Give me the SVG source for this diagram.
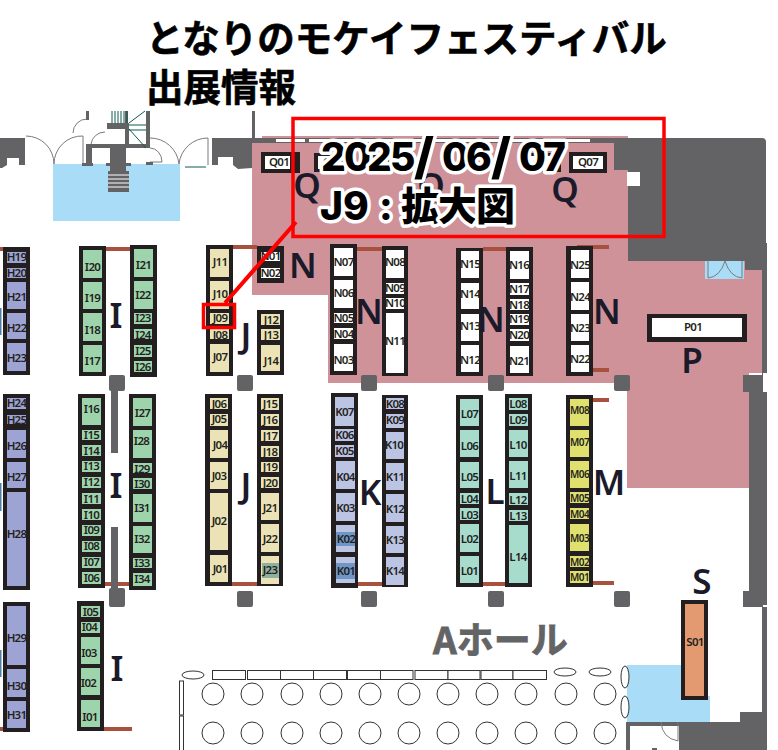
<svg xmlns="http://www.w3.org/2000/svg" width="778" height="750" viewBox="0 0 778 750">
<style>
.w{fill:#636366}.k{fill:#231f20}.r{fill:#a8513f}.bl{fill:#a9dcf6}.pk{fill:#cf9298}
.h{fill:#9da3d2}.i{fill:#9ed4ac}.j{fill:#ebe3b5}.kk{fill:#bcc4e3}.l{fill:#a7dccd}.m{fill:#dfe06e}.s{fill:#e39a70}.n{fill:#fff}
.ar{fill:none;stroke:#7b7b7e;stroke-width:1}
.gr{fill:none;stroke:#0d5a50;stroke-width:1}
.ob{fill:#fff;stroke:#333;stroke-width:1}
text{font-family:"Noto Sans","Noto Sans CJK JP",sans-serif}
g.b text{font-size:11.5px;font-weight:600;fill:#231f20;text-anchor:middle;letter-spacing:-.7px}
g.b text.sm{font-size:10px;letter-spacing:-.5px}
.lt{font-size:35px;font-weight:600;fill:#1a1a2a;text-anchor:middle}
.ttl{font-family:"Noto Sans CJK JP",sans-serif;font-size:37.500px;font-weight:700;fill:#000;stroke:#000;stroke-width:.6px}
.ov{font-family:Inter,"Noto Sans CJK JP",sans-serif;font-size:39px;font-weight:800;fill:#000;stroke:#fff;stroke-width:7px;stroke-linejoin:round;paint-order:stroke}
.sl{font-size:50px}
</style>
<rect width="778" height="750" fill="#fff"/>
<g id="floor">
<path class="pk" d="M262 136H628V261H745V270H762V373H749V488H627V383H328V295H252V143H262Z"/>
<path class="w" d="M0 138H25V165H19V158H7V165L2 168H0ZM212 138H590V143H252V168L238 169L233 165V157H218V165H212Z"/>
<rect x="252" y="111" width="3" height="27" class="w"/>
<path fill="#fff" d="M276 139H305V142H276ZM309 139H590V142H309Z"/>
<path class="w" d="M590 138H762Q766 138 766 142V243H767V373H763V392H767V605H763V607H767V717H767V750H679V722H740V712H762V607H743V591H749V392H743V375H762V270H745V261H628V170H614V143H590Z"/>
<rect x="627" y="172" width="13" height="14" fill="#fff"/>
<rect x="705" y="261" width="39" height="18" class="bl"/>
<path class="ar" d="M708 261V278Q720 277 725 261Q730 277 742 278V261" stroke="#4a6f85"/>
<rect x="53" y="164" width="127" height="57" class="bl"/>
<path class="ar" d="M26 136A28 28 0 0 1 54 164A28 28 0 0 1 83 136V164M150 138A29 29 0 0 1 179 164A29 29 0 0 1 208 138V165M73 133A14 14 0 0 1 87 119M91 147V144A14 14 0 0 1 105 132M150 148A12 14 0 0 1 162 162H150"/>
<path class="w" d="M86 111H89V120H86ZM86 144H105V148H92V163H93V166H82V163H86ZM107 123H125V111H128V123H129V144H146V111H150V148H126V163H131V166H126V171H110V166H106V163H110V148H105V144H125V129H107ZM146 162H150V150H150V165H153V162ZM146 165H153V162H146Z"/>
<rect x="108" y="171" width="21" height="21" class="w"/>
<path d="M108 175H129M108 179H129M108 183H129M108 187H129" stroke="#fff" fill="none"/>
<path class="gr" d="M112 111V123M115 111V123M118 111V123M121 111V123M124 111V123M127 111V123M129 125H146M129 130H146M129 123L145 111M129 129L146 148M185 167H206"/>
<g class="w">
<rect x="109" y="375" width="16" height="16" rx="2"/><rect x="237" y="375" width="16" height="16" rx="2"/><rect x="361" y="375" width="16" height="16" rx="2"/><rect x="488" y="375" width="16" height="16" rx="2"/><rect x="614" y="375" width="16" height="16" rx="2"/>
<rect x="109" y="588" width="16" height="19" rx="2"/><rect x="237" y="591" width="16" height="16" rx="2"/><rect x="361" y="591" width="16" height="16" rx="2"/><rect x="488" y="591" width="16" height="16" rx="2"/><rect x="614" y="591" width="16" height="16" rx="2"/>
<rect x="111" y="385" width="7" height="68"/><rect x="111" y="527" width="7" height="63"/>
</g>
<g class="r">
<rect x="0" y="247" width="3" height="4"/><rect x="106" y="247" width="24" height="4"/><rect x="233" y="245" width="24" height="4"/><rect x="357" y="247" width="25" height="4"/><rect x="483" y="247" width="23" height="4"/><rect x="577" y="245" width="32" height="4"/><rect x="593" y="368" width="16" height="4"/>
<rect x="105" y="582" width="6" height="4"/><rect x="118" y="582" width="12" height="4"/><rect x="232" y="582" width="25" height="4"/><rect x="358" y="582" width="24" height="4"/><rect x="483" y="582" width="22" height="4"/><rect x="593" y="398" width="16" height="4"/><rect x="593" y="581" width="21" height="4"/><rect x="0" y="727" width="3" height="4"/><rect x="104" y="727" width="28" height="4"/>
</g>
<rect x="0" y="308" width="1.500" height="27" fill="#4f7fa6"/><rect x="0" y="483" width="1.500" height="28" fill="#4f7fa6"/><rect x="0" y="650" width="1.500" height="27" fill="#4f7fa6"/>
<path class="bl" d="M627 665H682V696H710V722H627Z"/>
<path class="w" d="M626 722H679V726H630V750H626Z"/>
<path class="ar" d="M661 722Q662 738 678 741V722"/>
<rect x="652" y="748" width="5" height="2" class="w"/>
<g class="ob">
<ellipse cx="193" cy="675" rx="11" ry="4"/><ellipse cx="565" cy="672" rx="11" ry="4"/><ellipse cx="600" cy="672" rx="11" ry="4"/><ellipse cx="625" cy="677" rx="4" ry="11"/><ellipse cx="625" cy="707" rx="4" ry="11"/>
<rect x="212.500" y="670.500" width="33" height="9"/><rect x="247.500" y="670.500" width="33" height="9"/><rect x="280.500" y="670.500" width="33" height="9"/><rect x="313.500" y="670.500" width="33" height="9"/><rect x="347.500" y="670.500" width="33" height="9"/><rect x="380.500" y="670.500" width="32.500" height="9"/><rect x="415" y="670.500" width="33" height="9"/><rect x="448" y="670.500" width="32" height="9"/><rect x="481" y="670.500" width="32" height="9"/><rect x="513" y="670.500" width="33.500" height="9"/>
<rect x="179.500" y="681" width="4" height="34"/><rect x="179.500" y="716" width="4" height="36"/>
<circle cx="213" cy="694" r="11"/><circle cx="252" cy="694" r="11"/><circle cx="292" cy="694" r="11"/><circle cx="331" cy="694" r="11"/><circle cx="370" cy="694" r="11"/><circle cx="409" cy="694" r="11"/><circle cx="448" cy="694" r="11"/><circle cx="487" cy="694" r="11"/><circle cx="526" cy="694" r="11"/><circle cx="566" cy="694" r="11"/><circle cx="605" cy="694" r="11"/>
<circle cx="213" cy="733" r="11"/><circle cx="252" cy="733" r="11"/><circle cx="292" cy="733" r="11"/><circle cx="331" cy="733" r="11"/><circle cx="370" cy="733" r="11"/><circle cx="409" cy="733" r="11"/><circle cx="448" cy="733" r="11"/><circle cx="487" cy="733" r="11"/><circle cx="526" cy="733" r="11"/><circle cx="566" cy="733" r="11"/><circle cx="605" cy="733" r="11"/>
</g>
<text x="433" y="654" style="font-family:'Noto Sans CJK JP',sans-serif;font-size:37px;font-weight:700;fill:#636466;stroke:#636466;stroke-width:.8px">Aホール</text>
</g>
<g id="columns" class="k">
<rect x="3" y="247" width="27" height="128"/><rect x="79" y="246" width="27" height="130"/><rect x="130" y="245" width="27" height="132"/><rect x="206" y="245" width="27" height="131"/><rect x="257" y="310" width="27" height="65"/><rect x="257" y="246" width="27" height="37"/><rect x="330" y="244" width="27" height="131"/><rect x="382" y="246" width="26" height="130"/><rect x="456" y="248" width="27" height="128"/><rect x="506" y="247" width="27" height="129"/><rect x="566" y="246" width="27" height="130"/>
<rect x="3" y="394" width="27" height="196"/><rect x="78" y="394" width="27" height="194"/><rect x="129" y="394" width="27" height="196"/><rect x="205" y="394" width="27" height="192"/><rect x="257" y="394" width="26" height="192"/><rect x="331" y="393" width="27" height="195"/><rect x="382" y="395" width="26" height="192"/><rect x="456" y="395" width="27" height="192"/><rect x="505" y="394" width="27" height="193"/><rect x="566" y="395" width="27" height="192"/>
<rect x="3" y="602" width="27" height="130"/><rect x="77" y="601" width="27" height="130"/>
<rect x="647" y="314" width="100" height="28"/><rect x="681" y="600" width="27" height="100"/>
<rect x="261" y="152" width="39" height="21"/><rect x="314" y="153" width="38" height="19"/><rect x="372" y="153" width="38" height="19"/><rect x="523" y="153" width="38" height="19"/><rect x="569" y="152" width="38" height="21"/>
</g>
<g class="b" id="H19"><rect class="h" x="7" y="252" width="19" height="11"/><text x="16.500" y="261">H19</text></g>
<g class="b" id="H20"><rect class="h" x="7" y="268" width="19" height="10"/><text x="16.500" y="277">H20</text></g>
<g class="b" id="H21"><rect class="h" x="7" y="282" width="19" height="27"/><text x="16.500" y="301">H21</text></g>
<g class="b" id="H22"><rect class="h" x="7" y="313" width="19" height="26"/><text x="16.500" y="332">H22</text></g>
<g class="b" id="H23"><rect class="h" x="7" y="343" width="19" height="28"/><text x="16.500" y="362">H23</text></g>
<g class="b" id="H24"><rect class="h" x="7" y="398" width="19" height="11"/><text x="16.500" y="407">H24</text></g>
<g class="b" id="H25"><rect class="h" x="7" y="415" width="19" height="9"/><text x="16.500" y="424">H25</text></g>
<g class="b" id="H26"><rect class="h" x="7" y="430" width="19" height="28"/><text x="16.500" y="450">H26</text></g>
<g class="b" id="H27"><rect class="h" x="7" y="462" width="19" height="26"/><text x="16.500" y="481">H27</text></g>
<g class="b" id="H28"><rect class="h" x="7" y="492" width="19" height="94"/><text x="16.500" y="538">H28</text></g>
<g class="b" id="H29"><rect class="h" x="7" y="606" width="19" height="59"/><text x="16.500" y="642">H29</text></g>
<g class="b" id="H30"><rect class="h" x="7" y="669" width="19" height="28"/><text x="16.500" y="690">H30</text></g>
<g class="b" id="H31"><rect class="h" x="7" y="701" width="19" height="27"/><text x="16.500" y="719">H31</text></g>
<g class="b" id="I20"><rect class="i" x="83" y="250" width="19" height="28"/><text x="92.500" y="271">I20</text></g>
<g class="b" id="I19"><rect class="i" x="83" y="282" width="19" height="27"/><text x="92.500" y="302">I19</text></g>
<g class="b" id="I18"><rect class="i" x="83" y="313" width="19" height="28"/><text x="92.500" y="334">I18</text></g>
<g class="b" id="I17"><rect class="i" x="83" y="345" width="19" height="27"/><text x="92.500" y="365">I17</text></g>
<g class="b" id="I21"><rect class="i" x="134" y="249" width="19" height="28"/><text x="143.500" y="269">I21</text></g>
<g class="b" id="I22"><rect class="i" x="134" y="281" width="19" height="28"/><text x="143" y="299">I22</text></g>
<g class="b" id="I23"><rect class="i" x="134" y="313" width="18" height="11"/><text x="143" y="322">I23</text></g>
<g class="b" id="I24"><rect class="i" x="134" y="329" width="18" height="10"/><text x="143" y="339">I24</text></g>
<g class="b" id="I25"><rect class="i" x="134" y="345" width="18" height="12"/><text x="143" y="355">I25</text></g>
<g class="b" id="I26"><rect class="i" x="134" y="361" width="18" height="11"/><text x="143" y="371">I26</text></g>
<g class="b" id="I16"><rect class="i" x="82" y="398" width="19" height="27"/><text x="91.500" y="413">I16</text></g>
<g class="b" id="I15"><rect class="i" x="82" y="430" width="19" height="10"/><text x="91.500" y="439">I15</text></g>
<g class="b" id="I14"><rect class="i" x="82" y="445" width="19" height="11"/><text x="91.500" y="455">I14</text></g>
<g class="b" id="I13"><rect class="i" x="82" y="461" width="19" height="11"/><text x="91.500" y="470">I13</text></g>
<g class="b" id="I12"><rect class="i" x="82" y="477" width="19" height="11"/><text x="91.500" y="486">I12</text></g>
<g class="b" id="I11"><rect class="i" x="82" y="493" width="19" height="11"/><text x="91.500" y="503">I11</text></g>
<g class="b" id="I10"><rect class="i" x="82" y="509" width="19" height="11"/><text x="91.500" y="519">I10</text></g>
<g class="b" id="I09"><rect class="i" x="82" y="525" width="19" height="11"/><text x="91.500" y="534">I09</text></g>
<g class="b" id="I08"><rect class="i" x="82" y="541" width="19" height="11"/><text x="91.500" y="550">I08</text></g>
<g class="b" id="I07"><rect class="i" x="82" y="557" width="19" height="11"/><text x="91.500" y="566">I07</text></g>
<g class="b" id="I06"><rect class="i" x="82" y="572" width="19" height="12"/><text x="91.500" y="582">I06</text></g>
<g class="b" id="I27"><rect class="i" x="133" y="398" width="19" height="28"/><text x="142.500" y="417">I27</text></g>
<g class="b" id="I28"><rect class="i" x="133" y="430" width="19" height="28"/><text x="141.500" y="445">I28</text></g>
<g class="b" id="I29"><rect class="i" x="133" y="463" width="19" height="10"/><text x="142" y="473">I29</text></g>
<g class="b" id="I30"><rect class="i" x="133" y="478" width="19" height="11"/><text x="142" y="488">I30</text></g>
<g class="b" id="I31"><rect class="i" x="133" y="494" width="19" height="28"/><text x="142" y="512">I31</text></g>
<g class="b" id="I32"><rect class="i" x="133" y="526" width="19" height="27"/><text x="142" y="543">I32</text></g>
<g class="b" id="I33"><rect class="i" x="133" y="558" width="19" height="10"/><text x="142" y="567">I33</text></g>
<g class="b" id="I34"><rect class="i" x="133" y="573" width="19" height="13"/><text x="142" y="583">I34</text></g>
<g class="b" id="I05"><rect class="i" x="81" y="606" width="19" height="11"/><text x="90.500" y="616">I05</text></g>
<g class="b" id="I04"><rect class="i" x="81" y="622" width="19" height="11"/><text x="89.500" y="631">I04</text></g>
<g class="b" id="I03"><rect class="i" x="81" y="637" width="19" height="27"/><text x="89" y="657">I03</text></g>
<g class="b" id="I02"><rect class="i" x="81" y="668" width="19" height="27"/><text x="88.500" y="687">I02</text></g>
<g class="b" id="I01"><rect class="i" x="81" y="700" width="19" height="27"/><text x="90" y="721">I01</text></g>
<g class="b" id="J11"><rect class="j" x="210" y="249" width="19" height="28"/><text x="220" y="266">J11</text></g>
<g class="b" id="J10"><rect class="j" x="210" y="281" width="19" height="28"/><text x="220" y="298">J10</text></g>
<g class="b" id="J09"><rect class="j" x="210" y="313" width="19" height="11"/><text x="220" y="322">J09</text></g>
<g class="b" id="J08"><rect class="j" x="210" y="329" width="19" height="10"/><text x="220" y="339">J08</text></g>
<g class="b" id="J07"><rect class="j" x="210" y="344" width="19" height="28"/><text x="220" y="361">J07</text></g>
<g class="b" id="J12"><rect class="j" x="261" y="314" width="19" height="11"/><text x="271" y="324">J12</text></g>
<g class="b" id="J13"><rect class="j" x="261" y="329" width="19" height="11"/><text x="271" y="339">J13</text></g>
<g class="b" id="J14"><rect class="j" x="261" y="345" width="19" height="26"/><text x="271" y="365">J14</text></g>
<g class="b" id="J06"><rect class="j" x="210" y="398" width="18" height="11"/><text x="219" y="408">J06</text></g>
<g class="b" id="J05"><rect class="j" x="210" y="414" width="18" height="12"/><text x="219" y="423">J05</text></g>
<g class="b" id="J04"><rect class="j" x="210" y="430" width="18" height="28"/><text x="220" y="449">J04</text></g>
<g class="b" id="J03"><rect class="j" x="210" y="462" width="18" height="27"/><text x="219" y="480">J03</text></g>
<g class="b" id="J02"><rect class="j" x="210" y="493" width="18" height="57"/><text x="219" y="525">J02</text></g>
<g class="b" id="J01"><rect class="j" x="210" y="555" width="18" height="27"/><text x="220" y="573">J01</text></g>
<g class="b" id="J15"><rect class="j" x="261" y="398" width="18" height="12"/><text x="270" y="408">J15</text></g>
<g class="b" id="J16"><rect class="j" x="261" y="414" width="18" height="12"/><text x="270" y="424">J16</text></g>
<g class="b" id="J17"><rect class="j" x="261" y="430" width="18" height="11"/><text x="270" y="440">J17</text></g>
<g class="b" id="J18"><rect class="j" x="261" y="446" width="18" height="11"/><text x="270" y="456">J18</text></g>
<g class="b" id="J19"><rect class="j" x="261" y="462" width="18" height="10"/><text x="270" y="471">J19</text></g>
<g class="b" id="J20"><rect class="j" x="261" y="477" width="18" height="11"/><text x="270" y="487">J20</text></g>
<g class="b" id="J21"><rect class="j" x="261" y="493" width="18" height="27"/><text x="270" y="512">J21</text></g>
<g class="b" id="J22"><rect class="j" x="261" y="524" width="18" height="28"/><text x="270" y="543">J22</text></g>
<g class="b" id="J23"><rect class="j" x="261" y="556" width="18" height="28"/><rect x="262" y="563" width="17" height="15" fill="#8fb09f"/><text x="270" y="574">J23</text></g>
<g class="b" id="K07"><rect class="kk" x="335" y="397" width="19" height="29"/><text x="344.500" y="416">K07</text></g>
<g class="b" id="K06"><rect class="kk" x="335" y="429" width="19" height="12"/><text x="344.500" y="439">K06</text></g>
<g class="b" id="K05"><rect class="kk" x="335" y="445" width="19" height="12"/><text x="344.500" y="455">K05</text></g>
<g class="b" id="K04"><rect class="kk" x="336" y="461" width="19" height="28"/><text x="345.500" y="481">K04</text></g>
<g class="b" id="K03"><rect class="kk" x="336" y="493" width="19" height="28"/><text x="345.500" y="512">K03</text></g>
<g class="b" id="K02"><rect class="kk" x="336" y="525" width="19" height="27"/><rect x="336" y="532" width="19" height="14" fill="#6f97c6"/><text x="346" y="543">K02</text></g>
<g class="b" id="K01"><rect class="kk" x="336" y="557" width="19" height="26"/><rect x="336" y="563" width="19" height="16" fill="#6f97c6"/><text x="346" y="575">K01</text></g>
<g class="b" id="K08"><rect class="kk" x="386" y="398" width="18" height="11"/><text x="395" y="408">K08</text></g>
<g class="b" id="K09"><rect class="kk" x="386" y="414" width="18" height="14"/><text x="395" y="424">K09</text></g>
<g class="b" id="K10"><rect class="kk" x="386" y="432" width="18" height="27"/><text x="394" y="449">K10</text></g>
<g class="b" id="K11"><rect class="kk" x="386" y="463" width="18" height="27"/><text x="395" y="481">K11</text></g>
<g class="b" id="K12"><rect class="kk" x="386" y="494" width="18" height="28"/><text x="395" y="513">K12</text></g>
<g class="b" id="K13"><rect class="kk" x="386" y="526" width="18" height="27"/><text x="395" y="544">K13</text></g>
<g class="b" id="K14"><rect class="kk" x="386" y="557" width="18" height="28"/><text x="395" y="575">K14</text></g>
<g class="b" id="L07"><rect class="l" x="460" y="399" width="19" height="27"/><text x="469.500" y="418">L07</text></g>
<g class="b" id="L06"><rect class="l" x="460" y="430" width="19" height="27"/><text x="469.500" y="450">L06</text></g>
<g class="b" id="L05"><rect class="l" x="460" y="462" width="19" height="26"/><text x="469.500" y="481">L05</text></g>
<g class="b" id="L04"><rect class="l" x="460" y="493" width="19" height="11"/><text x="469.500" y="503">L04</text></g>
<g class="b" id="L03"><rect class="l" x="460" y="508" width="19" height="12"/><text x="469.500" y="519">L03</text></g>
<g class="b" id="L02"><rect class="l" x="460" y="524" width="19" height="28"/><text x="469.500" y="543">L02</text></g>
<g class="b" id="L01"><rect class="l" x="460" y="556" width="19" height="27"/><text x="469.500" y="575">L01</text></g>
<g class="b" id="L08"><rect class="l" x="509" y="398" width="19" height="12"/><text x="518" y="408">L08</text></g>
<g class="b" id="L09"><rect class="l" x="509" y="414" width="19" height="12"/><text x="518" y="424">L09</text></g>
<g class="b" id="L10"><rect class="l" x="509" y="430" width="19" height="27"/><text x="518" y="449">L10</text></g>
<g class="b" id="L11"><rect class="l" x="509" y="461" width="19" height="27"/><text x="518" y="480">L11</text></g>
<g class="b" id="L12"><rect class="l" x="509" y="493" width="19" height="12"/><text x="518" y="504">L12</text></g>
<g class="b" id="L13"><rect class="l" x="509" y="510" width="19" height="11"/><text x="518" y="520">L13</text></g>
<g class="b" id="L14"><rect class="l" x="509" y="525" width="19" height="58"/><text x="518" y="561">L14</text></g>
<g class="b" id="M08"><rect class="m" x="570" y="399" width="19" height="27"/><text class="sm" x="579.500" y="414">M08</text></g>
<g class="b" id="M07"><rect class="m" x="570" y="430" width="19" height="27"/><text class="sm" x="579.500" y="446">M07</text></g>
<g class="b" id="M06"><rect class="m" x="570" y="461" width="19" height="27"/><text class="sm" x="579.500" y="478">M06</text></g>
<g class="b" id="M05"><rect class="m" x="570" y="492" width="19" height="11"/><text class="sm" x="579.500" y="502">M05</text></g>
<g class="b" id="M04"><rect class="m" x="570" y="508" width="19" height="11"/><text class="sm" x="579.500" y="518">M04</text></g>
<g class="b" id="M03"><rect class="m" x="570" y="524" width="19" height="27"/><text class="sm" x="579.500" y="542">M03</text></g>
<g class="b" id="M02"><rect class="m" x="570" y="556" width="19" height="11"/><text class="sm" x="579.500" y="566">M02</text></g>
<g class="b" id="M01"><rect class="m" x="570" y="571" width="19" height="12"/><text class="sm" x="579.500" y="581">M01</text></g>
<g class="b" id="N01"><rect class="n" x="261" y="252" width="19" height="9"/><text x="270.500" y="260">N01</text></g>
<g class="b" id="N02"><rect class="n" x="261" y="268" width="19" height="10"/><text x="270.500" y="277">N02</text></g>
<g class="b" id="N07"><rect class="n" x="334" y="248" width="19" height="28"/><text x="343.500" y="266">N07</text></g>
<g class="b" id="N06"><rect class="n" x="334" y="280" width="19" height="28"/><text x="343.500" y="297">N06</text></g>
<g class="b" id="N05"><rect class="n" x="334" y="313" width="19" height="10"/><text x="343.500" y="322">N05</text></g>
<g class="b" id="N04"><rect class="n" x="334" y="328" width="19" height="11"/><text x="343.500" y="338">N04</text></g>
<g class="b" id="N03"><rect class="n" x="334" y="344" width="19" height="27"/><text x="343.500" y="364">N03</text></g>
<g class="b" id="N08"><rect class="n" x="386" y="250" width="18" height="28"/><text x="395" y="266">N08</text></g>
<g class="b" id="N09"><rect class="n" x="386" y="283" width="18" height="11"/><text x="395" y="292">N09</text></g>
<g class="b" id="N10"><rect class="n" x="386" y="298" width="18" height="11"/><text x="395" y="307">N10</text></g>
<g class="b" id="N11"><rect class="n" x="386" y="313" width="18" height="60"/><text x="395" y="345">N11</text></g>
<g class="b" id="N15"><rect class="n" x="461" y="251" width="18" height="27"/><text x="470" y="268">N15</text></g>
<g class="b" id="N14"><rect class="n" x="461" y="283" width="18" height="26"/><text x="470" y="298">N14</text></g>
<g class="b" id="N13"><rect class="n" x="461" y="314" width="18" height="27"/><text x="470" y="330">N13</text></g>
<g class="b" id="N12"><rect class="n" x="461" y="345" width="18" height="27"/><text x="470" y="364">N12</text></g>
<g class="b" id="N16"><rect class="n" x="510" y="251" width="19" height="28"/><text x="519" y="269">N16</text></g>
<g class="b" id="N17"><rect class="n" x="510" y="283" width="19" height="12"/><text x="519" y="293">N17</text></g>
<g class="b" id="N18"><rect class="n" x="510" y="299" width="19" height="11"/><text x="519" y="309">N18</text></g>
<g class="b" id="N19"><rect class="n" x="510" y="314" width="19" height="11"/><text x="519" y="323">N19</text></g>
<g class="b" id="N20"><rect class="n" x="510" y="329" width="19" height="12"/><text x="519" y="339">N20</text></g>
<g class="b" id="N21"><rect class="n" x="510" y="346" width="19" height="27"/><text x="519" y="365">N21</text></g>
<g class="b" id="N25"><rect class="n" x="571" y="250" width="18" height="28"/><text x="580" y="269">N25</text></g>
<g class="b" id="N24"><rect class="n" x="571" y="282" width="18" height="28"/><text x="580" y="301">N24</text></g>
<g class="b" id="N23"><rect class="n" x="571" y="314" width="18" height="27"/><text x="580" y="332">N23</text></g>
<g class="b" id="N22"><rect class="n" x="571" y="345" width="18" height="27"/><text x="580" y="363">N22</text></g>
<g class="b" id="P01"><rect class="n" x="652" y="318" width="90" height="19"/><text x="693" y="331">P01</text></g>
<g class="b" id="S01"><rect class="s" x="685" y="604" width="19" height="92"/><text x="695" y="646">S01</text></g>
<g class="b" id="Q01"><rect class="n" x="265" y="156" width="25" height="13"/><text x="279" y="166">Q01</text></g>
<g class="b" id="Q02"><rect class="n" x="318" y="156" width="30" height="13"/><text x="333" y="166">Q02</text></g>
<g class="b" id="Q04"><rect class="n" x="376" y="156" width="30" height="13"/><text x="391" y="166">Q04</text></g>
<g class="b" id="Q06"><rect class="n" x="527" y="156" width="30" height="13"/><text x="543" y="166">Q06</text></g>
<g class="b" id="Q07"><rect class="n" x="573" y="156" width="30" height="13"/><text x="588" y="166">Q07</text></g>
<g id="letters">
<text class="lt" x="116" y="328">I</text><text class="lt" x="116" y="498">I</text><text class="lt" x="117" y="681">I</text>
<text class="lt" x="246" y="348">J</text><text class="lt" x="246" y="498">J</text>
<text class="lt" x="370" y="505">K</text><text class="lt" x="495" y="504">L</text><text class="lt" x="609" y="495">M</text>
<text class="lt" x="303" y="278">N</text><text class="lt" x="369" y="324">N</text><text class="lt" x="491" y="332">N</text><text class="lt" x="607" y="324">N</text>
<text class="lt" x="692" y="373">P</text><text class="lt" x="702" y="594">S</text>
<text class="lt" x="307" y="198">Q</text><text class="lt" x="431" y="198">Q</text><text class="lt" x="565" y="202">Q</text>
</g>
<g id="connectors">
<path d="M296 222L225 303" stroke="#f00" stroke-width="4" fill="none"/>
<rect x="203.500" y="304.500" width="31" height="23" fill="none" stroke="#f00" stroke-width="3.500"/>
<rect x="293" y="118.500" width="371" height="118" fill="none" stroke="#f00" stroke-width="3.500"/>
</g>
<g id="title">
<text class="ttl" x="146" y="52">となりのモケイフェスティバル</text>
<text class="ttl" x="146" y="101">出展情報</text>
<text class="ov" y="171"><tspan x="321">2</tspan><tspan x="344">0</tspan><tspan x="367">2</tspan><tspan x="390">5</tspan><tspan class="sl" x="414" dy="3">/</tspan><tspan x="442" dy="-3">0</tspan><tspan x="466">6</tspan><tspan class="sl" x="491" dy="3">/</tspan><tspan x="519" dy="-3">0</tspan><tspan x="543">7</tspan></text>
<text class="ov" x="320 343 367 379 391 401 438 476" y="220">J9 : 拡大図</text>
</g>
</svg>
